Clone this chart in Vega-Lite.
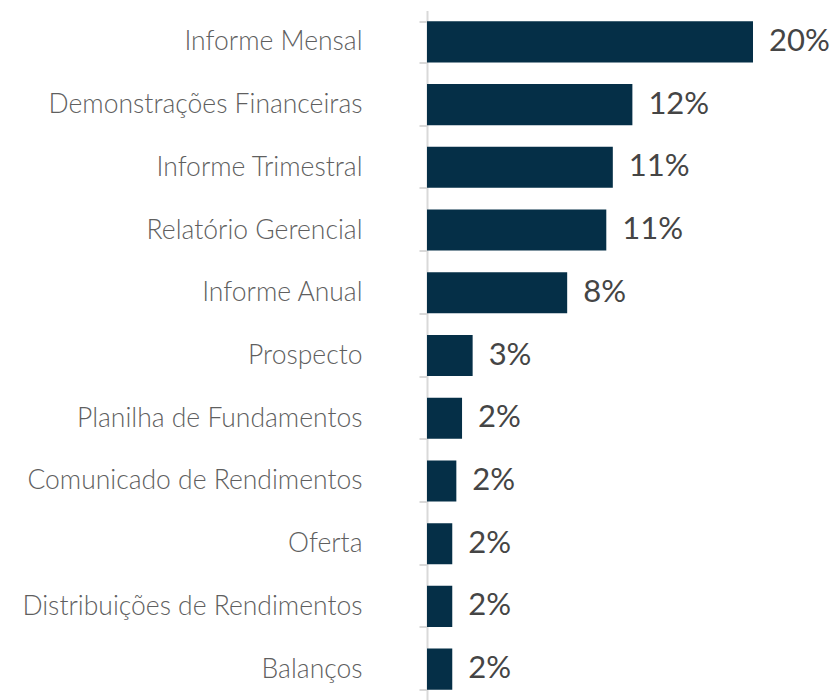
{
  "$schema": "https://vega.github.io/schema/vega-lite/v6.json",
  "width": 407.5,
  "height": 690,
  "autosize": {"type": "none"},
  "padding": {"left": 427, "top": 10.5, "right": 0, "bottom": 0},
  "background": "white",
  "data": {
    "values": [
      {"doc": "Informe Mensal", "pct": 20.0, "label": "20%"},
      {"doc": "Demonstrações Financeiras", "pct": 12.6, "label": "12%"},
      {"doc": "Informe Trimestral", "pct": 11.4, "label": "11%"},
      {"doc": "Relatório Gerencial", "pct": 11.0, "label": "11%"},
      {"doc": "Informe Anual", "pct": 8.6, "label": "8%"},
      {"doc": "Prospecto", "pct": 2.8, "label": "3%"},
      {"doc": "Planilha de Fundamentos", "pct": 2.15, "label": "2%"},
      {"doc": "Comunicado de Rendimentos", "pct": 1.8, "label": "2%"},
      {"doc": "Oferta", "pct": 1.55, "label": "2%"},
      {"doc": "Distribuições de Rendimentos", "pct": 1.55, "label": "2%"},
      {"doc": "Balanços", "pct": 1.55, "label": "2%"}
    ]
  },
  "encoding": {
    "y": {
      "field": "doc",
      "type": "nominal",
      "sort": null,
      "title": null,
      "scale": {"paddingInner": 0.345, "paddingOuter": 0.1725},
      "axis": {
        "tickBand": "extent",
        "domainColor": "#d9d9d9",
        "domainWidth": 2,
        "tickColor": "#d9d9d9",
        "tickWidth": 2,
        "tickSize": 8,
        "labelPadding": 57,
        "labelFont": "Lato",
        "labelFontWeight": 300,
        "labelFontSize": 26.5,
        "labelColor": "#5f5f5f",
        "labelLimit": 500
      }
    },
    "x": {
      "field": "pct",
      "type": "quantitative",
      "scale": {"domain": [0, 25]},
      "axis": null
    }
  },
  "layer": [
    {"mark": {"type": "bar", "color": "#052f47"}},
    {
      "mark": {
        "type": "text",
        "align": "left",
        "baseline": "middle",
        "dx": 16,
        "font": "Lato",
        "fontSize": 31,
        "color": "#454545"
      },
      "encoding": {"text": {"field": "label"}}
    }
  ],
  "config": {"view": {"stroke": null}}
}
